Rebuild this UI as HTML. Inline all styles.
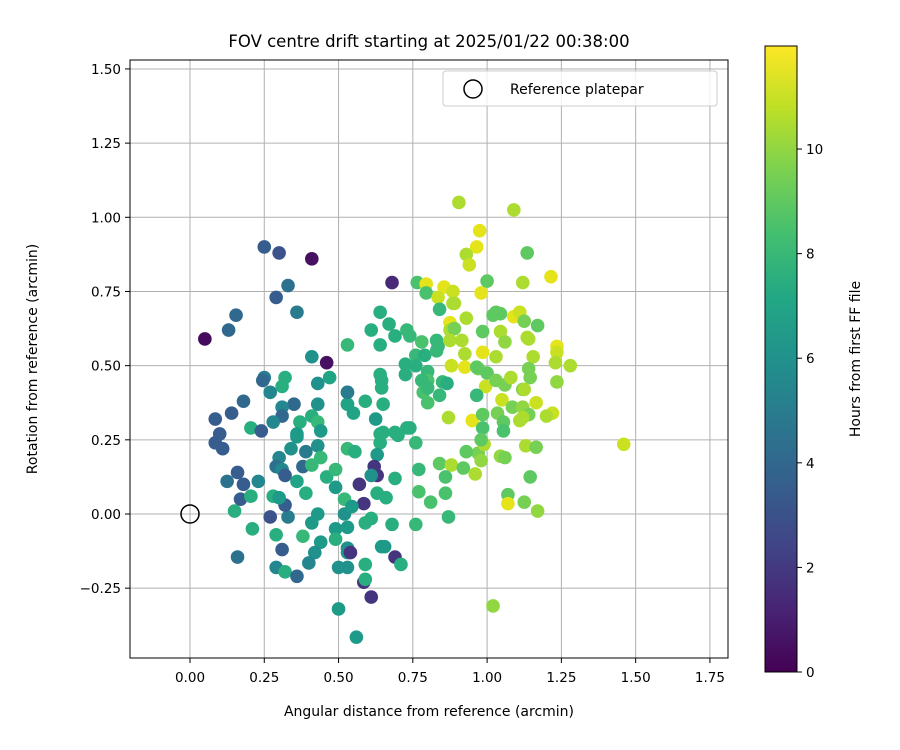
<!DOCTYPE html>
<html><head><meta charset="utf-8"><style>
body{margin:0;background:#fff;}
svg{display:block;font-family:"DejaVu Sans","Liberation Sans",sans-serif;}
</style></head><body>
<svg id="chart" width="900" height="750" viewBox="0 0 900 750" xmlns="http://www.w3.org/2000/svg">
<defs>
<linearGradient id="vir" x1="0" y1="1" x2="0" y2="0">
<stop offset="0" stop-color="#440154"/><stop offset="0.1" stop-color="#482475"/>
<stop offset="0.2" stop-color="#414487"/><stop offset="0.3" stop-color="#355f8d"/>
<stop offset="0.4" stop-color="#2a788e"/><stop offset="0.5" stop-color="#21918c"/>
<stop offset="0.6" stop-color="#22a884"/><stop offset="0.7" stop-color="#44bf70"/>
<stop offset="0.8" stop-color="#7ad151"/><stop offset="0.9" stop-color="#bddf26"/>
<stop offset="1" stop-color="#fde725"/>
</linearGradient>
<clipPath id="clip"><rect x="130" y="60" width="598" height="598"/></clipPath>
</defs>
<rect width="900" height="750" fill="#fff"/>
<text x="429" y="47" text-anchor="middle" font-size="16.5">FOV centre drift starting at 2025/01/22 00:38:00</text>
<g id="grid"></g>
<g id="points" clip-path="url(#clip)"></g>
<circle cx="190" cy="514" r="9" fill="none" stroke="#000" stroke-width="1.5"/>
<rect x="130" y="60" width="598" height="598" fill="none" stroke="#000" stroke-width="1"/>
<g id="xticks"></g>
<g id="yticks"></g>
<text x="429" y="716" text-anchor="middle" font-size="14">Angular distance from reference (arcmin)</text>
<text transform="translate(37,359) rotate(-90)" text-anchor="middle" font-size="14">Rotation from reference (arcmin)</text>
<g>
<rect x="443" y="71" width="274" height="35" rx="3" fill="#fff" fill-opacity="0.8" stroke="#ccc"/>
<circle cx="473" cy="89" r="9" fill="none" stroke="#000" stroke-width="1.5"/>
<text x="510" y="94" font-size="14">Reference platepar</text>
</g>
<rect x="765" y="46" width="32" height="626" fill="url(#vir)" stroke="#000" stroke-width="1"/>
<g id="cticks"></g>
<text transform="translate(860,359) rotate(-90)" text-anchor="middle" font-size="14">Hours from first FF file</text>
</svg>
<script>
const xs=[0.05,0.41,0.46,0.25,0.30,0.33,0.29,0.36,0.155,0.13,0.41,0.25,0.245,0.32,0.31,0.27,0.43,0.47,0.18,0.14,0.085,0.35,0.31,0.31,0.43,0.28,0.205,0.24,0.37,0.41,0.43,0.44,0.36,0.53,0.53,0.53,
0.10,0.085,0.11,0.16,0.125,0.18,0.23,0.17,0.205,0.15,0.27,0.33,0.32,0.28,0.30,0.21,0.29,0.31,0.16,0.29,0.32,0.36,0.30,0.29,0.31,0.32,0.36,0.39,0.38,0.41,0.36,0.34,0.39,0.43,0.44,0.46,0.49,0.49,0.53,0.52,0.52,0.43,0.41,0.38,0.49,0.49,0.44,0.42,0.40,0.50,0.53,0.50,
0.64,0.70,0.73,0.76,0.64,0.555,0.63,0.62,0.63,0.61,0.57,0.69,0.77,0.84,0.88,0.92,0.96,0.86,0.97,0.98,0.99,0.63,0.66,0.585,0.77,0.81,0.86,0.87,1.07,1.07,1.125,0.545,0.61,0.59,0.68,0.76,0.53,0.53,0.54,0.645,0.655,0.69,0.71,0.53,0.59,0.585,0.59,0.61,0.56,1.02,
0.68,0.765,0.795,0.855,0.885,0.795,0.835,0.885,0.84,0.98,1.00,1.12,1.135,0.965,0.93,0.94,0.64,0.67,0.61,0.64,0.69,0.73,0.74,0.78,0.83,0.835,0.875,0.875,0.89,0.93,0.875,0.915,0.925,0.985,1.02,1.045,1.045,1.06,1.09,1.11,1.125,1.135,1.03,0.985,0.76,0.79,0.83,0.725,0.76,0.88,0.925,0.97,0.80,0.80,0.85,0.865,1.00,0.965,0.64,0.645,0.645,0.725,0.78,0.785,0.80,0.995,1.03,1.06,1.08,1.12,0.965,1.05,1.035,1.085,1.055,1.11,1.12,0.95,0.87,0.985,0.53,0.59,0.65,0.55,0.625,0.53,0.80,0.69,0.74,0.65,0.84,
1.215,1.17,1.14,1.235,1.235,1.155,1.23,1.28,1.14,1.145,1.235,1.125,1.165,1.14,1.22,1.20,1.12,1.46,1.13,1.165,1.145,1.17,
0.905,1.09,0.975,1.03,0.89,0.985,1.055,0.98,1.045,1.06,0.93];
const ys=[0.59,0.86,0.51,0.90,0.88,0.77,0.73,0.68,0.67,0.62,0.53,0.46,0.45,0.46,0.43,0.41,0.44,0.46,0.38,0.34,0.32,0.37,0.36,0.33,0.37,0.31,0.29,0.28,0.31,0.33,0.31,0.28,0.27,0.41,0.57,0.37,
0.27,0.24,0.22,0.14,0.11,0.10,0.11,0.05,0.06,0.01,-0.01,-0.01,0.03,0.06,0.055,-0.05,-0.07,-0.12,-0.145,-0.18,-0.195,-0.21,0.19,0.16,0.15,0.13,0.11,0.07,0.16,0.165,0.26,0.22,0.21,0.23,0.19,0.125,0.15,0.09,0.22,0.05,0.00,0.00,-0.03,-0.075,-0.05,-0.085,-0.095,-0.13,-0.165,-0.18,-0.13,-0.32,
0.27,0.265,0.29,0.24,0.24,0.21,0.20,0.16,0.13,0.13,0.10,0.12,0.15,0.17,0.165,0.155,0.135,0.125,0.205,0.18,0.235,0.07,0.055,0.035,0.075,0.04,0.07,-0.01,0.065,0.035,0.04,0.025,-0.015,-0.03,-0.035,-0.035,-0.045,-0.115,-0.13,-0.11,-0.11,-0.145,-0.17,-0.18,-0.17,-0.23,-0.22,-0.28,-0.415,-0.31,
0.78,0.78,0.775,0.765,0.75,0.745,0.73,0.71,0.69,0.745,0.785,0.78,0.88,0.90,0.875,0.84,0.68,0.64,0.62,0.57,0.60,0.62,0.60,0.58,0.585,0.565,0.645,0.62,0.625,0.66,0.585,0.585,0.54,0.545,0.67,0.675,0.615,0.58,0.665,0.68,0.65,0.595,0.53,0.615,0.535,0.535,0.55,0.505,0.50,0.50,0.495,0.49,0.48,0.45,0.445,0.44,0.475,0.495,0.47,0.45,0.425,0.47,0.45,0.41,0.375,0.43,0.45,0.435,0.46,0.42,0.40,0.385,0.34,0.36,0.31,0.315,0.36,0.315,0.325,0.335,0.37,0.38,0.37,0.34,0.32,0.41,0.425,0.275,0.29,0.275,0.40,
0.80,0.635,0.59,0.565,0.545,0.53,0.51,0.50,0.49,0.46,0.445,0.42,0.375,0.335,0.34,0.33,0.325,0.235,0.23,0.225,0.125,0.01,
1.05,1.025,0.955,0.68,0.71,0.29,0.28,0.25,0.195,0.19,0.21];
const hours=[0.3,0.5,0.5,3.5,3,4.5,3.5,5,4,4,6,5,4,7.5,7.5,5.5,6,7,4,3.5,3.5,4,5.5,4,6,5.5,7.5,3.5,7.5,7.5,8,6.5,6.5,6,8,8,
3.5,3.5,3.5,3.5,4.5,3.5,5.5,3.5,7.5,7.5,3,5,3.5,7.5,6.5,7.5,7.5,3.5,4.5,5.5,7.5,4,5.5,4.5,5.5,3.5,7,7.5,4,8,6.5,6,5,6,8,7.5,8,6.5,8,8,6,6.5,6.5,8,6.5,7.5,6.5,6,5.5,6,6.5,6.5,
7.5,7.5,7.5,8,7.5,7.5,6.5,2,2,6,2,7.5,8,9,10.5,9,10.5,8.5,9.5,10,10.5,7.5,7.5,2,8.5,8.5,8.5,8,9,11.5,9.5,6.5,7.5,7.5,7.5,8,6.5,6,2,6.5,6.5,2,7.5,6,7.5,2,7.5,2,6.5,10,
1.5,8.5,11.5,11.5,11,8.5,11,10.5,8,11.5,9,10.5,9,11.5,10.5,11,7.5,7.5,7.5,7.5,7.5,8,8,8.5,8,8,11.5,10.5,9.5,10.5,10.5,10.5,10.5,11.5,9,9,10.5,10,11.5,11,9.5,10.5,10.5,9,8,7.5,8,7.5,7.5,11,11.5,9.5,8,8.5,8,7.5,9,9,7.5,7.5,7.5,7.5,8,8.5,8.5,11,9.5,9.5,10.5,9.5,8,11,9.5,9.5,9,10.5,10,11.5,10.5,9,7,7.5,7.5,7,6.5,5,8,7.5,7.5,7.5,8,
11.5,9,10.5,11.5,11,10.5,10.5,10.5,9.5,9.5,10,10.5,11,9.5,11,10.5,10.5,11,10.5,9.5,9,10,
10.5,10.5,11.5,9,10.5,8.5,8.5,9,10,9.5,9];
const xTicks=[0,0.25,0.5,0.75,1.0,1.25,1.5,1.75];
const xTickLabels=["0.00","0.25","0.50","0.75","1.00","1.25","1.50","1.75"];
const yTicks=[-0.25,0,0.25,0.5,0.75,1.0,1.25,1.5];
const yTickLabels=["\u22120.25","0.00","0.25","0.50","0.75","1.00","1.25","1.50"];
const cTicks=[0,2,4,6,8,10];
const cTickLabels=["0","2","4","6","8","10"];

const NS="http://www.w3.org/2000/svg";
const xScale=v=>190+v*297.1;
const yScale=v=>514-v*296.7;
const hMax=11.97;
const cScale=v=>672-v/hMax*626;
const stops=[[0,"#440154"],[0.05,"#471365"],[0.1,"#482475"],[0.15,"#472d7b"],[0.2,"#414487"],[0.25,"#3b528b"],[0.3,"#355f8d"],[0.35,"#2f6c8e"],[0.4,"#2a788e"],[0.45,"#25848e"],[0.5,"#21918c"],[0.55,"#1e9c89"],[0.6,"#22a884"],[0.65,"#2fb47c"],[0.7,"#44bf70"],[0.75,"#5ec962"],[0.8,"#7ad151"],[0.85,"#9bd93c"],[0.9,"#bddf26"],[0.95,"#dfe318"],[1,"#fde725"]];
function hex(c){return [1,3,5].map(i=>parseInt(c.substr(i,2),16));}
function viridis(t){t=Math.max(0,Math.min(1,t));for(let i=1;i<stops.length;i++){if(t<=stops[i][0]){const a=stops[i-1],b=stops[i];const f=(t-a[0])/(b[0]-a[0]);const ca=hex(a[1]),cb=hex(b[1]);return "rgb("+ca.map((v,k)=>Math.round(v+(cb[k]-v)*f)).join(",")+")";}}return stops[stops.length-1][1];}
function mk(tag,attrs,parent){const e=document.createElementNS(NS,tag);for(const k in attrs)e.setAttribute(k,attrs[k]);parent.appendChild(e);return e;}
const grid=document.getElementById('grid'),xt=document.getElementById('xticks'),yt=document.getElementById('yticks'),ct=document.getElementById('cticks'),pts=document.getElementById('points');
xTicks.forEach((v,i)=>{const x=xScale(v);
 const g=mk('line',{x1:x,x2:x,y1:60,y2:658,stroke:'#b0b0b0','stroke-width':1},grid);
 
 
 const t=mk('line',{x1:x,x2:x,y1:658,y2:663,stroke:'#000'},xt);
 
 
 const l=mk('text',{x:x,y:682,'text-anchor':'middle','font-size':13.5},xt);l.textContent=xTickLabels[i];
 
 
});
yTicks.forEach((v,i)=>{const y=yScale(v);
 const g=mk('line',{x1:130,x2:728,y1:y,y2:y,stroke:'#b0b0b0','stroke-width':1},grid);
 
 
 const t=mk('line',{x1:125,x2:130,y1:y,y2:y,stroke:'#000'},yt);
 
 
 const l=mk('text',{x:121,y:y+5,'text-anchor':'end','font-size':13.5},yt);l.textContent=yTickLabels[i];
 
 
});
cTicks.forEach((v,i)=>{const y=cScale(v);
 const t=mk('line',{x1:797,x2:802,y1:y,y2:y,stroke:'#000'},ct);
 
 
 const l=mk('text',{x:806,y:y+5,'font-size':13.5},ct);l.textContent=cTickLabels[i];
 
 
});
xs.forEach((v,i)=>{
 const c=mk('circle',{cx:xScale(v),cy:yScale(ys[i]),r:6.8,fill:viridis(hours[i]/hMax)},pts);
 
 
});
</script>
</body></html>
